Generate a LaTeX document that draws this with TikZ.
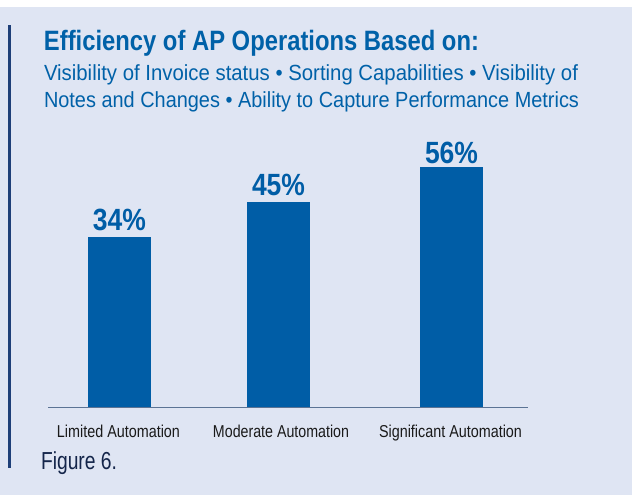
\documentclass[tikz,border=0pt]{standalone}
\usepackage{fontspec}
\usepackage{graphicx}
\setmainfont{Liberation Sans}
\definecolor{bgc}{HTML}{DFE5F3}
\definecolor{barblue}{HTML}{005DA6}
\definecolor{titleblue}{HTML}{0061A8}
\definecolor{labeldark}{HTML}{1A1A1A}
\definecolor{capdark}{HTML}{14254A}
\definecolor{sidebar}{HTML}{1E3F78}
\definecolor{axisc}{HTML}{5B7394}
\newcommand{\hfit}[2]{\resizebox{#1}{\height}{#2}}
\tikzset{
  txt/.style={anchor=base west, inner sep=0pt, outer sep=0pt},
  ctxt/.style={anchor=base, inner sep=0pt, outer sep=0pt},
  barbox/.style={fill=barblue, draw=none},
}
\begin{document}
\begin{tikzpicture}[x=1pt,y=-1pt]
\useasboundingbox (0,0) rectangle (632,495);
\fill[white] (0,0) rectangle (632,7);
\fill[bgc] (0,7) rectangle (632,495);
\fill[sidebar] (8,25) rectangle (11,468);
% title and subtitle
\node[txt, text=titleblue, font=\fontsize{28}{30}\selectfont\bfseries] (title) at (44,50.7) {\hfit{435pt}{Efficiency of AP Operations Based on:}};
\node[txt, text=titleblue, font=\fontsize{21.9}{24}\selectfont] (sub1) at (44,80.7) {\hfit{534pt}{Visibility of Invoice status • Sorting Capabilities • Visibility of}};
\node[txt, text=titleblue, font=\fontsize{21.9}{24}\selectfont] (sub2) at (44,107.3) {\hfit{535pt}{Notes and Changes • Ability to Capture Performance Metrics}};
% bars
\fill[barblue] (88,237) rectangle (151,407.5);
\fill[barblue] (247,202) rectangle (310,407.5);
\fill[barblue] (420,167) rectangle (483,407.5);
\coordinate (b1) at (119.5,230);
\coordinate (b2) at (278.5,195);
\coordinate (b3) at (451.5,163);
\node[ctxt, text=barblue, font=\fontsize{30.7}{32}\selectfont\bfseries] (p1) at (b1) {\hfit{53pt}{34\%}};
\node[ctxt, text=barblue, font=\fontsize{30.7}{32}\selectfont\bfseries] (p2) at (b2) {\hfit{53pt}{45\%}};
\node[ctxt, text=barblue, font=\fontsize{30.7}{32}\selectfont\bfseries] (p3) at (b3) {\hfit{53pt}{56\%}};
% axis
\coordinate (axl) at (48,407.6);
\coordinate (axr) at (528,407.6);
\draw[axisc, line width=1.6pt] (axl) -- (axr);
% category labels
\node[ctxt, text=labeldark, font=\fontsize{17.2}{19}\selectfont] (l1) at (118.5,437.3) {\hfit{123pt}{Limited Automation}};
\node[ctxt, text=labeldark, font=\fontsize{17.2}{19}\selectfont] (l2) at (281,437.3) {\hfit{136pt}{Moderate Automation}};
\node[ctxt, text=labeldark, font=\fontsize{17.2}{19}\selectfont] (l3) at (450.5,437.3) {\hfit{143pt}{Significant Automation}};
% caption
\node[txt, text=capdark, font=\fontsize{24.6}{26}\selectfont] (cap) at (41,469.3) {\hfit{76pt}{Figure 6.}};
\end{tikzpicture}
\end{document}
